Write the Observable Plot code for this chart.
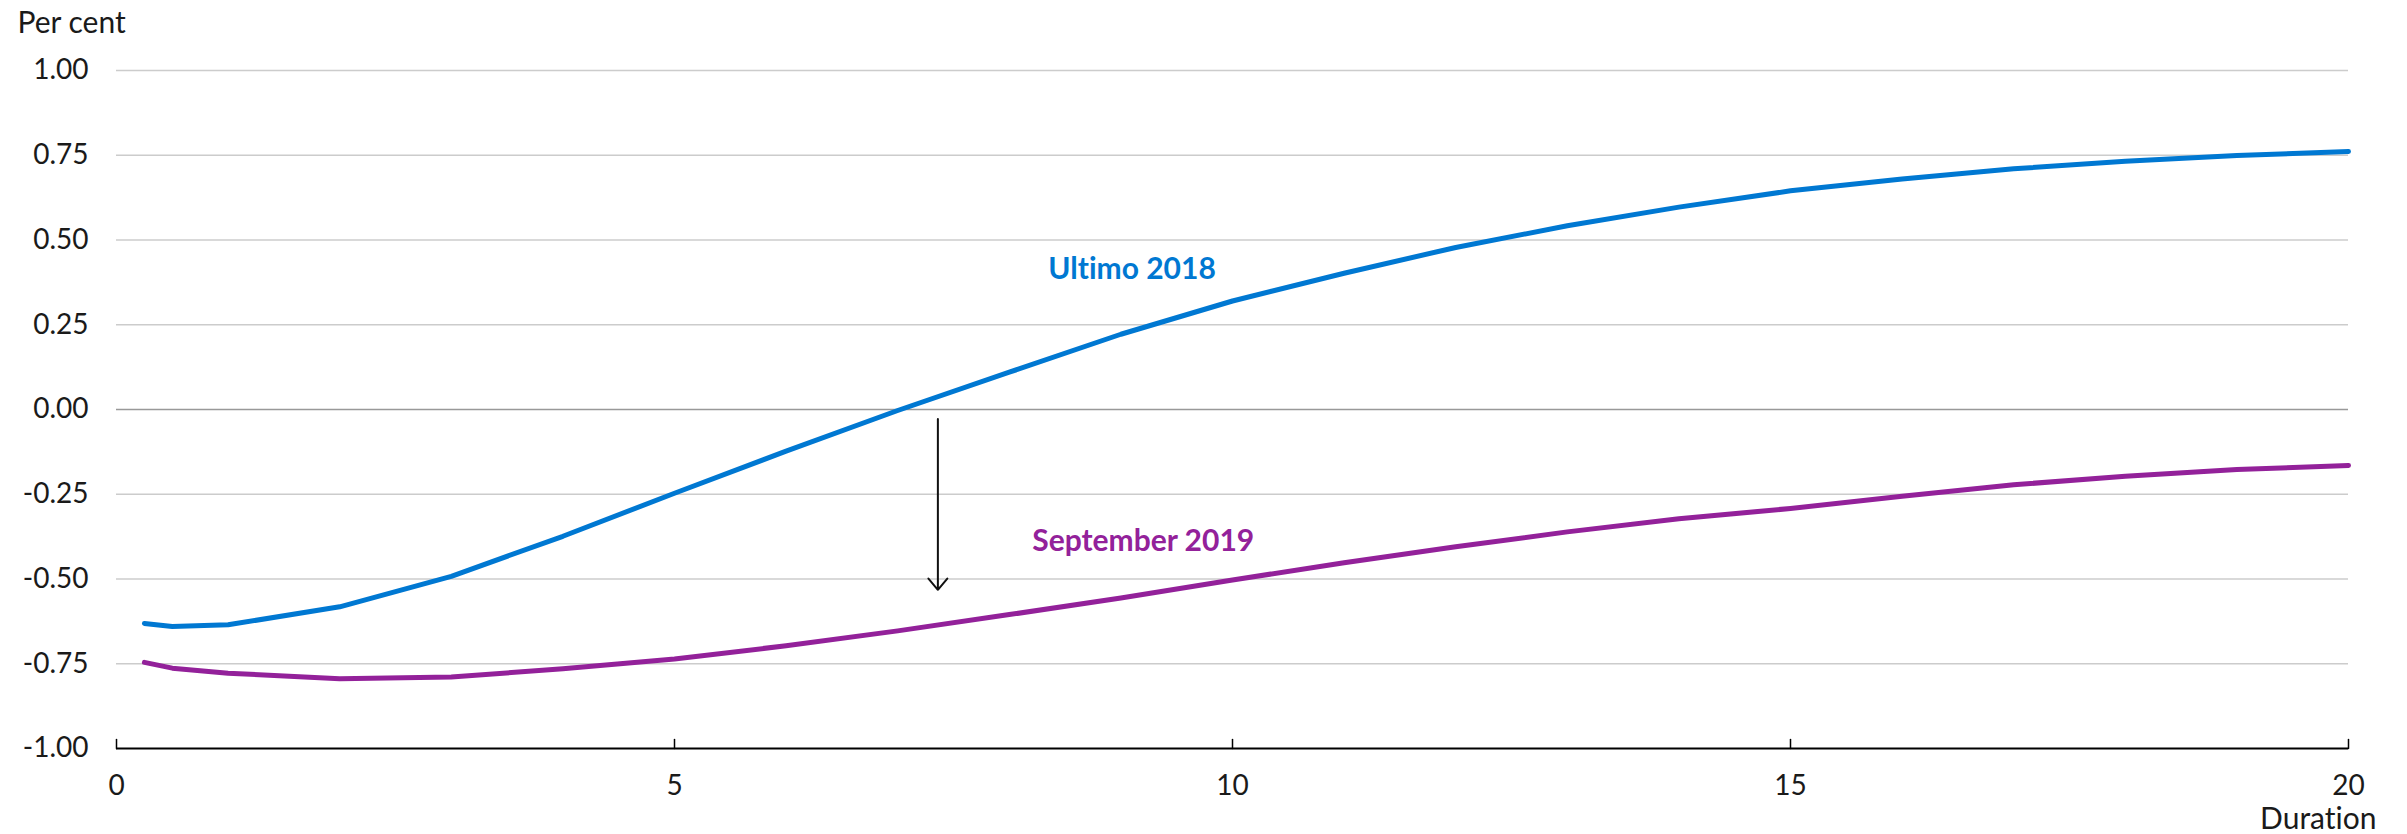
<!DOCTYPE html>
<html>
<head>
<meta charset="utf-8">
<script src="https://cdn.jsdelivr.net/npm/d3@7"></script>
<script src="https://cdn.jsdelivr.net/npm/@observablehq/plot@0.6"></script>
<style>
  html, body { margin: 0; padding: 0; background: #fff; }
  svg { display: block; font-variant-ligatures: none; font-feature-settings: "liga" 0, "clig" 0; }
  svg text { font-variant-ligatures: none; }
</style>
</head>
<body>
<div id="chart"></div>
<script>
// Duration (years)
const durations = [0.25, 0.5, 1, 2, 3, 4, 5, 6, 7, 8, 9, 10, 11, 12, 13, 14, 15, 16, 17, 18, 19, 20];
// Ultimo 2018 (per cent)
const ultimo2018 = [-0.631, -0.640, -0.635, -0.582, -0.492, -0.374, -0.247, -0.123, -0.003, 0.110, 0.222, 0.320, 0.402, 0.478, 0.542, 0.597, 0.645, 0.680, 0.710, 0.732, 0.749, 0.761];
// September 2019 (per cent)
const september2019 = [-0.746, -0.763, -0.778, -0.794, -0.789, -0.765, -0.736, -0.697, -0.653, -0.605, -0.556, -0.503, -0.452, -0.405, -0.361, -0.322, -0.292, -0.256, -0.222, -0.197, -0.177, -0.165];
const seriesNames = ["Ultimo 2018", "September 2019"];
const seriesColors = ["#0078D2", "#93219A"];
const yTicks = [-1.00, -0.75, -0.50, -0.25, 0.00, 0.25, 0.50, 0.75, 1.00];
const xTicks = [0, 5, 10, 15, 20];
// annotation: series labels (duration, per cent) and shift arrow
const labelX = [9.10, 9.20];
const labelY = [0.386, -0.418];
const arrowX = 7.36;
const arrowFrom = -0.028;
const arrowTo = -0.532;

const rows = [];
durations.forEach((d, i) => {
  rows.push({series: seriesNames[0], x: d, y: ultimo2018[i]});
  rows.push({series: seriesNames[1], x: d, y: september2019[i]});
});
const labels = seriesNames.map((s, i) => ({series: s, x: labelX[i], y: labelY[i]}));
const font = "Lato, 'Open Sans', sans-serif";

const upTick = {draw(context, l) { context.moveTo(0, 0); context.lineTo(0, -l); }};

const chart = Plot.plot({
  width: 2407,
  height: 834,
  marginLeft: 116,
  marginRight: 59,
  marginTop: 70,
  marginBottom: 86,
  style: {fontFamily: font, fontSize: "28px", color: "#1a1a1a", background: "#fff"},
  x: {domain: [0, 20]},
  y: {domain: [-1, 1]},
  color: {domain: seriesNames, range: seriesColors},
  marks: [
    Plot.ruleY(yTicks.filter(v => v !== 0 && v !== -1), {stroke: "#cccccc", strokeWidth: 1.5}),
    Plot.ruleY([0], {stroke: "#999999", strokeWidth: 1.5}),
    Plot.ruleY([-1], {stroke: "#000", strokeWidth: 1.8}),
    Plot.vector(xTicks, {x: d => d, y: -1, length: 9, rotate: 0, anchor: "start", shape: upTick, stroke: "#000", strokeWidth: 1.5}),
    Plot.axisY({ticks: yTicks, tickSize: 0, tickPadding: 28, tickFormat: d => d.toFixed(2), label: null, fontSize: 28}),
    Plot.axisX({ticks: xTicks, tickSize: 0, tickPadding: 27, tickFormat: d => String(d), label: null, fontSize: 28}),
    Plot.line(rows, {x: "x", y: "y", z: "series", stroke: "series", strokeWidth: 5, strokeLinecap: "round", strokeLinejoin: "round"}),
    Plot.arrow([0], {x: () => arrowX, y1: () => arrowFrom, y2: () => arrowTo, stroke: "#111", strokeWidth: 2, headLength: 11, headAngle: 80}),
    Plot.text(labels, {x: "x", y: "y", text: "series", fill: "series", fontWeight: "bold", fontSize: 30, lineAnchor: "bottom", textAnchor: "middle"}),
    Plot.text(["Per cent"], {frameAnchor: "top-left", dx: -99, dy: -38, textAnchor: "start", lineAnchor: "bottom", fontSize: 30, fill: "#1a1a1a"}),
    Plot.text(["Duration"], {frameAnchor: "bottom-right", dx: 28, dy: 80, textAnchor: "end", lineAnchor: "bottom", fontSize: 30, fill: "#1a1a1a"})
  ]
});
document.getElementById("chart").appendChild(chart);
</script>
</body>
</html>
